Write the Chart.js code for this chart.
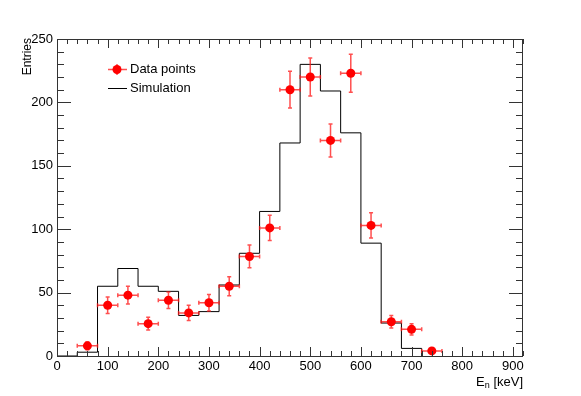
<!DOCTYPE html>
<html>
<head>
<meta charset="utf-8">
<script src="https://cdn.jsdelivr.net/npm/chart.js@4.4.0/dist/chart.umd.min.js"></script>
<style>
  html, body { margin: 0; padding: 0; background: #fff; }
  #wrap { width: 581px; height: 396px; }
</style>
</head>
<body>
<div id="wrap"><canvas id="chart" width="581" height="396"></canvas></div>
<script>
// --- Data ---
// measured points (bin centres, keV)
const pointEnergy = [60, 100, 140, 180, 220, 260, 300, 340, 380, 420, 460, 500, 540, 580, 620, 660, 700, 740];
const pointCounts = [8, 40, 48, 25.5, 44, 34, 42, 55, 78.5, 101, 210, 220, 170, 223, 103, 27, 21, 4];
const pointErrY   = [3, 6.5, 7, 5, 6.5, 6, 6.5, 7.5, 9, 10, 14.5, 15, 13, 15, 10, 5, 4.5, 2];
const pointErrX   = [20, 20, 20, 20, 20, 20, 20, 20, 20, 20, 20, 20, 20, 20, 20, 20, 20, 20];

// simulation histogram (left bin edges, keV) and its closing edge
const simEdges  = [0, 40, 80, 120, 160, 200, 240, 280, 320, 360, 400, 440, 480, 520, 560, 600, 640, 680];
const simCounts = [0, 3, 55, 69, 55, 51, 32, 35, 56, 81, 114, 168, 230, 209, 176, 89, 26, 6];
const simLastEdge = 720;

// axis ticks
const xTickStep = 100, xMinorStep = 20;
const yTickStep = 50, yMinorStep = 10;

const FONT = '"Liberation Sans", Arial, Helvetica, sans-serif';
const RED = '#ff0000';

const pointData = pointEnergy.map((e, i) => ({ x: e, y: pointCounts[i] }));
const simData = simEdges.map((e, i) => ({ x: e, y: simCounts[i] }));
simData.push({ x: simLastEdge, y: 0 });

// --- error bars under the markers ---
const errorBars = {
    id: 'errorBars',
    beforeDatasetDraw(chart, args) {
        if (args.index !== 0) return;
        const { ctx, scales: { x, y } } = chart;
        ctx.save();
        ctx.strokeStyle = 'rgba(255,20,20,0.75)';
        ctx.lineWidth = 1.5;
        pointEnergy.forEach((e, i) => {
            const px = x.getPixelForValue(e), py = y.getPixelForValue(pointCounts[i]);
            const x0 = x.getPixelForValue(e - pointErrX[i]), x1 = x.getPixelForValue(e + pointErrX[i]);
            const y0 = y.getPixelForValue(pointCounts[i] - pointErrY[i]), y1 = y.getPixelForValue(pointCounts[i] + pointErrY[i]);
            ctx.beginPath();
            ctx.moveTo(x0, py); ctx.lineTo(x1, py);
            ctx.moveTo(x0, py - 2); ctx.lineTo(x0, py + 2);
            ctx.moveTo(x1, py - 2); ctx.lineTo(x1, py + 2);
            ctx.moveTo(px, y0); ctx.lineTo(px, y1);
            ctx.moveTo(px - 2, y0); ctx.lineTo(px + 2, y0);
            ctx.moveTo(px - 2, y1); ctx.lineTo(px + 2, y1);
            ctx.stroke();
        });
        ctx.restore();
    }
};

// --- ROOT style frame, inward ticks, titles and legend ---
const frameDecor = {
    id: 'frameDecor',
    afterDraw(chart) {
        const { ctx, chartArea: a, scales: { x, y } } = chart;
        ctx.save();
        ctx.strokeStyle = '#333';
        ctx.lineWidth = 1;
        ctx.strokeRect(a.left + 0.5, a.top + 0.5, a.right - a.left - 1, a.bottom - a.top);

        ctx.beginPath();
        for (let v = 0; v <= x.max; v += xMinorStep) {
            const px = Math.round(x.getPixelForValue(v)) + 0.5;
            const len = v % xTickStep === 0 ? 9 : 5;
            ctx.moveTo(px, a.bottom); ctx.lineTo(px, a.bottom - len);
            ctx.moveTo(px, a.top); ctx.lineTo(px, a.top + len);
        }
        for (let v = 0; v <= y.max; v += yMinorStep) {
            const py = Math.round(y.getPixelForValue(v)) + 0.5;
            const len = v % yTickStep === 0 ? 14 : 7;
            ctx.moveTo(a.left, py); ctx.lineTo(a.left + len, py);
            ctx.moveTo(a.right, py); ctx.lineTo(a.right - len, py);
        }
        ctx.stroke();

        // axis titles
        ctx.fillStyle = '#000';
        ctx.textBaseline = 'alphabetic';
        // x title: E_n [keV], right aligned to axis end
        const tail = ' [keV]';
        ctx.font = '13px ' + FONT;
        const wTail = ctx.measureText(tail).width;
        ctx.font = '9px ' + FONT;
        const wSub = ctx.measureText('n').width;
        ctx.font = '13px ' + FONT;
        const wE = ctx.measureText('E').width;
        const tx = a.right - wTail - wSub - wE;
        const ty = 386;
        ctx.fillText('E', tx, ty);
        ctx.font = '9px ' + FONT;
        ctx.fillText('n', tx + wE, ty + 2);
        ctx.font = '13px ' + FONT;
        ctx.fillText(tail, tx + wE + wSub, ty);

        // y title
        ctx.save();
        ctx.translate(31, 38);
        ctx.rotate(-Math.PI / 2);
        ctx.textAlign = 'right';
        ctx.font = '12px ' + FONT;
        ctx.fillText('Entries', 0, 0);
        ctx.restore();

        // legend
        const lx0 = 108, lx1 = 127, mx = 117;
        const ds = chart.data.datasets;
        ctx.strokeStyle = 'rgba(255,20,20,0.75)';
        ctx.lineWidth = 1.5;
        ctx.beginPath();
        ctx.moveTo(lx0, 69.5); ctx.lineTo(lx1, 69.5);
        ctx.moveTo(mx, 64); ctx.lineTo(mx, 75);
        ctx.stroke();
        ctx.fillStyle = RED;
        ctx.beginPath();
        ctx.arc(mx, 69.5, 4.5, 0, Math.PI * 2);
        ctx.fill();
        ctx.strokeStyle = '#000';
        ctx.lineWidth = 1;
        ctx.beginPath();
        ctx.moveTo(lx0, 88.5); ctx.lineTo(lx1, 88.5);
        ctx.stroke();
        ctx.fillStyle = '#000';
        ctx.font = '13px ' + FONT;
        ctx.textBaseline = 'middle';
        ctx.fillText(ds[0].label, 130, 69.5);
        ctx.fillText(ds[1].label, 130, 88.5);
        ctx.restore();
    }
};

new Chart(document.getElementById('chart'), {
    type: 'line',
    data: {
        datasets: [
            {
                label: 'Data points',
                data: pointData,
                showLine: false,
                pointRadius: 4.5,
                pointHoverRadius: 4.5,
                pointBorderWidth: 0,
                backgroundColor: RED,
                borderColor: RED
            },
            {
                label: 'Simulation',
                data: simData,
                stepped: 'before',
                borderColor: '#000',
                borderWidth: 1,
                pointRadius: 0,
                fill: false
            }
        ]
    },
    options: {
        responsive: false,
        animation: false,
        events: [],
        layout: { padding: { left: 0, right: 58, top: 39, bottom: 0 } },
        plugins: { legend: { display: false }, tooltip: { enabled: false } },
        scales: {
            x: {
                type: 'linear',
                min: 0,
                max: 920,
                grid: { display: false, drawTicks: false },
                border: { display: false },
                afterFit: (s) => { s.height = 40; },
                ticks: {
                    stepSize: xTickStep,
                    includeBounds: false,
                    maxRotation: 0,
                    autoSkip: false,
                    padding: 3,
                    color: '#000',
                    font: { family: FONT, size: 13 }
                }
            },
            y: {
                min: 0,
                max: 250,
                grid: { display: false, drawTicks: false },
                border: { display: false },
                afterFit: (s) => { s.width = 57; },
                ticks: {
                    stepSize: yTickStep,
                    padding: 4,
                    color: '#000',
                    font: { family: FONT, size: 13 }
                }
            }
        }
    },
    plugins: [errorBars, frameDecor]
});
</script>
</body>
</html>
